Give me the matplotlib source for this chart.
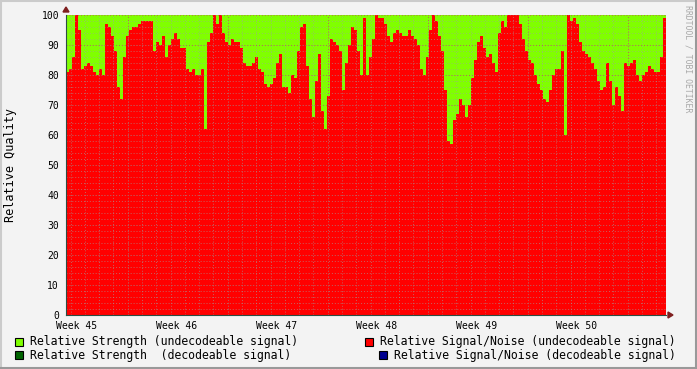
import numpy as np
import matplotlib
matplotlib.use('Agg')
import matplotlib.pyplot as plt
from matplotlib.patches import Rectangle, Polygon
from matplotlib.lines import Line2D

# Relative Signal/Noise (undecodeable), one value per ~5 hour step, 6 weeks
snr = [
    81, 82, 86, 100, 95, 82, 83, 84, 83, 81, 80, 82, 80, 97, 96, 93, 88, 76, 72, 86,
    93, 95, 96, 96, 97, 98, 98, 98, 98, 88, 91, 90, 93, 86, 90, 92, 94, 92, 89, 89,
    82, 81, 82, 80, 80, 82, 62, 91, 94, 100, 97, 100, 94, 91, 90, 92, 91, 91, 89, 84,
    83, 83, 84, 86, 82, 81, 77, 76, 77, 79, 84, 87, 76, 76, 74, 80, 79, 88, 96, 97,
    83, 72, 66, 78, 87, 68, 62, 73, 92, 91, 90, 88, 75, 84, 90, 96, 95, 88, 80, 99,
    80, 86, 92, 100, 99, 99, 97, 93, 91, 94, 95, 94, 93, 93, 95, 93, 92, 90, 82, 80,
    86, 95, 100, 98, 93, 88, 75, 58, 57, 65, 67, 72, 70, 66, 70, 79, 85, 91, 93, 89,
    86, 87, 84, 81, 94, 98, 96, 100, 100, 100, 100, 97, 92, 88, 85, 84, 80, 77, 75, 72,
    71, 75, 80, 82, 82, 88, 60, 100, 98, 99, 97, 91, 88, 87, 86, 84, 82, 78, 75, 76,
    84, 78, 70, 76, 73, 68, 84, 83, 84, 85, 80, 78, 80, 81, 83, 82, 81, 81, 86, 99,
]
strength_top = 100  # relative strength fills the rest of the scale

week_labels = ['Week 45', 'Week 46', 'Week 47', 'Week 48', 'Week 49', 'Week 50']
legend_items = [
    ('Relative Strength (undecodeable signal)', '#80FF00'),
    ('Relative Strength  (decodeable signal)', '#006400'),
    ('Relative Signal/Noise (undecodeable signal)', '#FF0000'),
    ('Relative Signal/Noise (decodeable signal)', '#000090'),
]

W, H = 697, 369
BG = '#F3F3F3'
MONO = 'DejaVu Sans Mono'


def fx(px):
    return px / W


def fy(py):
    return 1 - py / H


fig = plt.figure(figsize=(W / 100, H / 100), dpi=100)
fig.patch.set_facecolor(BG)

# plot area in pixels: x 66..666, y 15..315
ax = fig.add_axes([fx(66), fy(315), 600 / W, 300 / H])
ax.set_facecolor('white')

days_total = 42.0
edges = np.linspace(0, days_total, len(snr) + 1)

ax.fill_between([0, days_total], 0, strength_top, color='#80FF00', lw=0, zorder=1)
ax.stairs(snr, edges, fill=True, color='#FF0000', baseline=0, zorder=2)

ax.set_xlim(0, days_total)
ax.set_ylim(0, 100)

# grid (rrdtool style, drawn over the areas)
minor_x = np.arange(0.32, days_total, 1.0)
major_x = np.arange(4.32, days_total, 7.0)
gkw = dict(lw=0.7, ls=(0, (1, 2)), zorder=3)
for x in minor_x:
    ax.axvline(x, color='#A0A0A0', alpha=0.6, **gkw)
for y in np.arange(2, 100, 2):
    ax.axhline(y, color='#A0A0A0', alpha=0.6, **gkw)
for x in major_x:
    ax.axvline(x, color='#C05050', alpha=0.8, **gkw)
for y in np.arange(10, 101, 10):
    ax.axhline(y, color='#C05050', alpha=0.8, **gkw)

# ticks and labels
ax.set_yticks(np.arange(0, 101, 10))
ax.set_yticklabels([str(v) for v in range(0, 101, 10)], fontsize=7, family=MONO)
label_pos = 0.77 + 7 * np.arange(len(week_labels))
ax.set_xticks(label_pos)
ax.set_xticklabels(week_labels, fontsize=7, family=MONO)
ax.tick_params(axis='x', length=0, pad=4)
ax.tick_params(axis='y', length=0, pad=5)

for s in ['top', 'right']:
    ax.spines[s].set_visible(False)
for s in ['left', 'bottom']:
    ax.spines[s].set_color('#2C4D43')
    ax.spines[s].set_linewidth(0.8)
    ax.spines[s].set_zorder(4)

fig.text(fx(11), fy(165), 'Relative Quality', rotation=90, fontsize=8.5,
         family=MONO, ha='center', va='center')

# axis arrows
arrow_col = '#7F1F1F'
fig.add_artist(Polygon([[fx(63), fy(12)], [fx(69), fy(12)], [fx(66), fy(7)]],
                       closed=True, color=arrow_col, transform=fig.transFigure))
fig.add_artist(Polygon([[fx(668), fy(312)], [fx(668), fy(318)], [fx(673), fy(315)]],
                       closed=True, color=arrow_col, transform=fig.transFigure))

# watermark
fig.text(fx(688), fy(5), 'RRDTOOL / TOBI OETIKER', rotation=270, fontsize=5.9,
         family=MONO, color='#A8A8A8', ha='center', va='top')

# legend
rows = [342, 355]
positions = [(15, rows[0]), (15, rows[1]), (365, rows[0]), (379, rows[1])]
for (label, col), (x0, yc) in zip(legend_items, positions):
    fig.add_artist(Rectangle((fx(x0), fy(yc + 4)), 8 / W, 8 / H, facecolor=col,
                             edgecolor='black', lw=0.8, transform=fig.transFigure))
    fig.text(fx(x0 + 15), fy(yc), label, fontsize=8.3, family=MONO,
             ha='left', va='center')

# frame shading
fig.add_artist(Line2D([0, 1], [fy(0.5)] * 2, color='#CBCBCB', lw=1.5,
                      transform=fig.transFigure))
fig.add_artist(Line2D([fx(0.5)] * 2, [0, 1], color='#CBCBCB', lw=1.5,
                      transform=fig.transFigure))
fig.add_artist(Line2D([0, 1], [fy(368)] * 2, color='#999999', lw=1.5,
                      transform=fig.transFigure))
fig.add_artist(Line2D([fx(696)] * 2, [0, 1], color='#999999', lw=1.5,
                      transform=fig.transFigure))

fig.savefig('out.png', dpi=100, facecolor=BG)
